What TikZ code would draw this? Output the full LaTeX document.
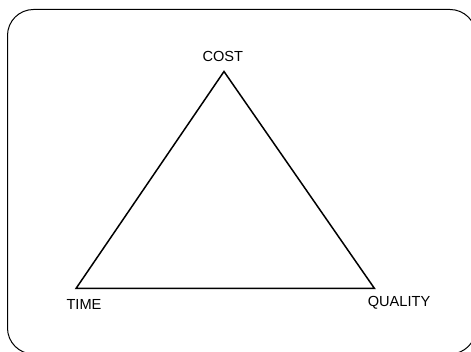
\documentclass[tikz,border=0pt]{standalone}
\usepackage{fontspec}
\setmainfont{Liberation Sans}
\begin{document}
\begin{tikzpicture}[x=1pt,y=-1pt,
  lbl/.style={inner sep=0pt,anchor=base,font=\fontsize{14.6}{17}\selectfont},
  tri/.style={line width=1.5pt,line join=miter},
  frame/.style={line width=1pt,rounded corners=26pt}]
\useasboundingbox (0,0) rectangle (471,352);
\begin{scope}
\clip (0,0) rectangle (471,352);
\draw[frame] (7.5,9.5) rectangle (476,354);
\end{scope}
\coordinate (c) at (224,71.5);
\coordinate (t) at (76,288.5);
\coordinate (q) at (374.5,288.5);
\draw[tri] (c) -- (t) -- (q) -- cycle;
\node[lbl] (costl) at (222.8,61.7) {COST};
\node[lbl] (timel) at (84,310) {TIME};
\node[lbl] (qualityl) at (399,306.5) {QUALITY};
\end{tikzpicture}
\end{document}
